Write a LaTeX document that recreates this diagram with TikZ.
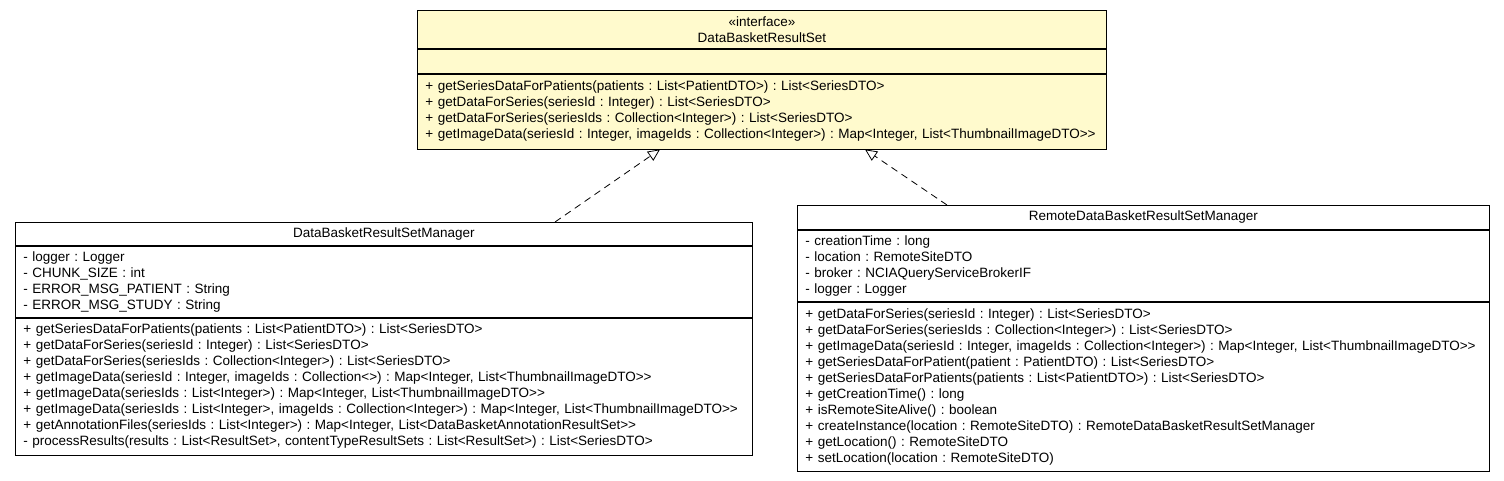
\documentclass[tikz,border=0pt]{standalone}
\usepackage{fontspec}
\setmainfont{Liberation Sans}
\usetikzlibrary{positioning,arrows.meta}
\definecolor{ifacefill}{HTML}{FFFACD}
\frenchspacing

\begin{document}
\begin{tikzpicture}[x=1pt,y=1pt,node distance=0pt]
    \tikzstyle{compartment}=[draw=black,line width=0.8pt,inner xsep=8pt,inner ysep=0pt,align=left,font=\fontsize{13.5}{16}\selectfont,anchor=north west]
    \tikzstyle{realizes}=[draw=black,line width=0.8pt,dash pattern=on 7pt off 5pt,-{Triangle[open,length=12pt,width=11pt]}]

    \useasboundingbox (0,0) rectangle (1504,-480);

    % the interface
    \node[compartment, fill=ifacefill, text width=673pt, minimum height=38pt, align=center] (iface-title) at (417,-10)
        {«interface»\\DataBasketResultSet};
    \node[compartment, fill=ifacefill, text width=673pt, minimum height=24pt, below=of iface-title] (iface-attrs) {};
    \node[compartment, fill=ifacefill, text width=673pt, minimum height=75pt, below=of iface-attrs] (iface-meths)
        {+ getSeriesDataForPatients(patients : List<PatientDTO>) : List<SeriesDTO>\\
         + getDataForSeries(seriesId : Integer) : List<SeriesDTO>\\
         + getDataForSeries(seriesIds : Collection<Integer>) : List<SeriesDTO>\\
         + getImageData(seriesId : Integer, imageIds : Collection<Integer>) : Map<Integer, List<ThumbnailImageDTO>{}>};

    % local manager
    \node[compartment, text width=721pt, minimum height=23pt, align=center] (mgr-title) at (15,-222)
        {DataBasketResultSetManager};
    \node[compartment, text width=721pt, minimum height=71pt, below=of mgr-title] (mgr-attrs)
        {- logger : Logger\\
         - CHUNK\_SIZE : int\\
         - ERROR\_MSG\_PATIENT : String\\
         - ERROR\_MSG\_STUDY : String};
    \node[compartment, text width=721pt, minimum height=137pt, below=of mgr-attrs] (mgr-meths)
        {+ getSeriesDataForPatients(patients : List<PatientDTO>) : List<SeriesDTO>\\
         + getDataForSeries(seriesId : Integer) : List<SeriesDTO>\\
         + getDataForSeries(seriesIds : Collection<Integer>) : List<SeriesDTO>\\
         + getImageData(seriesId : Integer, imageIds : Collection<>) : Map<Integer, List<ThumbnailImageDTO>{}>\\
         + getImageData(seriesIds : List<Integer>) : Map<Integer, List<ThumbnailImageDTO>{}>\\
         + getImageData(seriesIds : List<Integer>, imageIds : Collection<Integer>) : Map<Integer, List<ThumbnailImageDTO>{}>\\
         + getAnnotationFiles(seriesIds : List<Integer>) : Map<Integer, List<DataBasketAnnotationResultSet>{}>\\
         - processResults(results : List<ResultSet>, contentTypeResultSets : List<ResultSet>) : List<SeriesDTO>};

    % remote manager
    \node[compartment, text width=676pt, minimum height=24pt, align=center] (rmgr-title) at (797,-205)
        {RemoteDataBasketResultSetManager};
    \node[compartment, text width=676pt, minimum height=71pt, below=of rmgr-title] (rmgr-attrs)
        {- creationTime : long\\
         - location : RemoteSiteDTO\\
         - broker : NCIAQueryServiceBrokerIF\\
         - logger : Logger};
    \node[compartment, text width=676pt, minimum height=169pt, below=of rmgr-attrs] (rmgr-meths)
        {+ getDataForSeries(seriesId : Integer) : List<SeriesDTO>\\
         + getDataForSeries(seriesIds : Collection<Integer>) : List<SeriesDTO>\\
         + getImageData(seriesId : Integer, imageIds : Collection<Integer>) : Map<Integer, List<ThumbnailImageDTO>{}>\\
         + getSeriesDataForPatient(patient : PatientDTO) : List<SeriesDTO>\\
         + getSeriesDataForPatients(patients : List<PatientDTO>) : List<SeriesDTO>\\
         + getCreationTime() : long\\
         + isRemoteSiteAlive() : boolean\\
         + createInstance(location : RemoteSiteDTO) : RemoteDataBasketResultSetManager\\
         + getLocation() : RemoteSiteDTO\\
         + setLocation(location : RemoteSiteDTO)};

    % realizations
    \draw[realizes] ([xshift=540pt]mgr-title.north west) -- ([xshift=243pt]iface-meths.south west);
    \draw[realizes] ([xshift=150pt]rmgr-title.north west) -- ([xshift=448pt]iface-meths.south west);
\end{tikzpicture}
\end{document}
